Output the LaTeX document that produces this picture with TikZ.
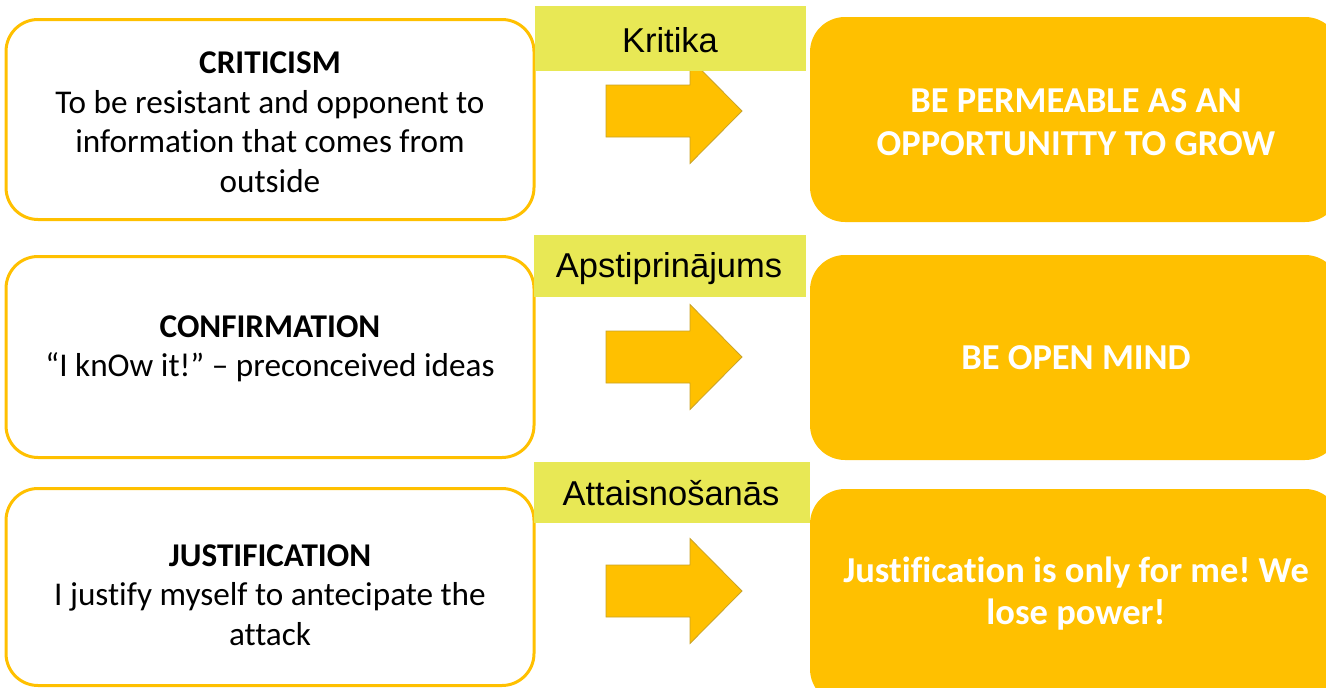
\documentclass[tikz,border=0pt]{standalone}
\usepackage{fontspec}
\setmainfont{Carlito}[Ligatures=NoCommon]
\newfontfamily\arialf{Liberation Sans}
\definecolor{gold}{HTML}{FFC000}
\definecolor{lime}{HTML}{E8E855}
\definecolor{arrowedge}{HTML}{C9A227}
\frenchspacing
\begin{document}
\begin{tikzpicture}[x=1pt,y=-1pt,
  leftbox/.style={draw=gold, line width=3pt, rounded corners=32pt, fill=white, inner sep=0pt, outer sep=0pt, minimum width=528pt},
  rightbox/.style={fill=gold, rounded corners=35pt, inner sep=0pt, outer sep=0pt, minimum width=530pt},
  labelbox/.style={fill=lime, inner sep=0pt, outer sep=0pt},
  labeltext/.style={font=\arialf\fontsize{34.5}{40}\selectfont, anchor=base, inner sep=0pt},
  lefttext/.style={font=\fontsize{33.2}{39.5}\selectfont, align=center, inner sep=0pt},
  righttext/.style={font=\bfseries\fontsize{36.5}{42.5}\selectfont, text=white, align=center, inner sep=0pt},
  bigarrow/.style={fill=gold, draw=arrowedge, line width=0.8pt, line join=miter}]
\useasboundingbox (0,0) rectangle (1326,688);
\clip (0,0) rectangle (1326,688);

% left boxes
\node[leftbox, minimum height=200pt] (l1) at (270,119.5) {};
\node[leftbox, minimum height=201pt] (l2) at (270,357) {};
\node[leftbox, minimum height=197pt] (l3) at (270,587) {};
\node[lefttext] (t1) at (270,122) {\textbf{CRITICISM}\\To be resistant and opponent to\\information that comes from\\outside};
\node[lefttext] (t2) at (270,349) {\textbf{CONFIRMATION}\\“I knOw it!” – preconceived ideas};
\node[lefttext] (t3) at (270,595) {\textbf{JUSTIFICATION}\\I justify myself to antecipate the\\attack};

% right boxes
\node[rightbox, minimum height=205pt] (r1) at (1075,119.5) {};
\node[rightbox, minimum height=205pt] (r2) at (1075,357.5) {};
\node[rightbox, minimum height=215pt] (r3) at (1075,596.5) {};
\node[righttext] (u1) at (1076,122) {BE PERMEABLE AS AN\\OPPORTUNITTY TO GROW};
\node[righttext] (u2) at (1076,358) {BE OPEN MIND};
\node[righttext] (u3) at (1076,593.5) {Justification is only for me! We\\lose power!};

% arrows
\foreach \c/\n in {111/a1,357/a2,591/a3}{
  \draw[bigarrow] (606,\c-26) -- (690,\c-26) -- (690,\c-52.5) -- (742,\c) -- (690,\c+52.5) -- (690,\c+26) -- (606,\c+26) -- cycle;
}

% labels
\node[labelbox, minimum width=271pt, minimum height=65pt] (k1) at (670.5,38.5) {};
\node[labelbox, minimum width=272pt, minimum height=62pt] (k2) at (670,266) {};
\node[labelbox, minimum width=276pt, minimum height=61pt] (k3) at (672,492.5) {};
\node[labeltext] (m1) at (670,52) {Kritika};
\node[labeltext] (m2) at (669,277) {Apstiprinājums};
\node[labeltext] (m3) at (671,505) {Attaisnošanās};
\end{tikzpicture}
\end{document}
